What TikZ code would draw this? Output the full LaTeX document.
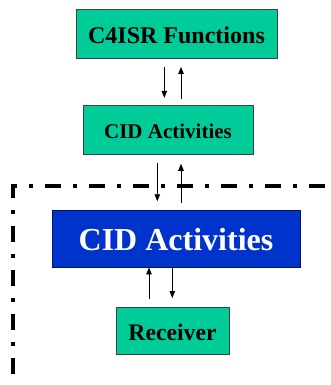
\documentclass[tikz,border=0pt]{standalone}
\usepackage{fontspec}
\setmainfont{Liberation Serif}
\usetikzlibrary{arrows.meta}
\definecolor{boxgreen}{RGB}{0,204,153}
\definecolor{boxblue}{RGB}{0,51,204}
\definecolor{navyedge}{RGB}{0,20,100}
\begin{document}
\begin{tikzpicture}[x=1pt,y=-1pt,
  greenbox/.style={draw=black!75, line width=0.9pt, fill=boxgreen, inner sep=0pt},
  bluebox/.style={draw=navyedge, line width=0.9pt, fill=boxblue, text=white, inner sep=0pt},
  arr/.style={line width=0.8pt, -{Triangle[length=7pt,width=5.5pt]}},
  bound/.style={line width=3.5pt, line join=miter, dash pattern=on 16pt off 12pt on 3.5pt off 12.5pt}]
\useasboundingbox (0,0) rectangle (331,385);
\fill[white] (0,0) rectangle (331,385);
% boundary (dash-dot)
\draw[bound] (13,198) -- (13,186) -- (332.55,186) -- (332.55,400);
\draw[bound, dash phase=16pt] (13,198) -- (13,400);
% nodes
\node[greenbox, minimum width=201pt, minimum height=49.5pt, text height=19pt, text depth=0pt,
  font=\fontsize{24}{24}\selectfont\bfseries] (c4) at (176.5,33.75) {C4ISR Functions};
\node[greenbox, minimum width=170pt, minimum height=48.6pt, text height=17pt, text depth=0pt,
  font=\fontsize{21}{21}\selectfont\bfseries] (cid1) at (168,130) {CID Activities};
\node[bluebox, minimum width=248pt, minimum height=57pt, text height=24.5pt, text depth=0pt,
  font=\fontsize{32}{32}\selectfont\bfseries] (cid2) at (176,238.5) {CID Activities};
\node[greenbox, minimum width=113pt, minimum height=47pt, text height=19pt, text depth=0pt,
  font=\fontsize{23.7}{23.7}\selectfont\bfseries] (rcv) at (172.5,331) {Receiver};
% connectors
\draw[arr, shorten <=8pt, shorten >=7.4pt] (c4.south -| 164.3,0) -- (cid1.north -| 164.3,0);
\draw[arr, shorten <=6.7pt, shorten >=8pt] (cid1.north -| 181,0) -- (c4.south -| 181,0);
\draw[arr, shorten <=8pt, shorten >=8.3pt] (cid1.south -| 157.3,0) -- (cid2.north -| 157.3,0);
\draw[arr, shorten <=6.7pt, shorten >=9pt] (cid2.north -| 181,0) -- (cid1.south -| 181,0);
\draw[arr, shorten <=8pt, shorten >=0pt] (rcv.north -| 149,0) -- (cid2.south -| 149,0);
\draw[arr, shorten <=0pt, shorten >=9pt] (cid2.south -| 172.3,0) -- (rcv.north -| 172.3,0);
\end{tikzpicture}
\end{document}
